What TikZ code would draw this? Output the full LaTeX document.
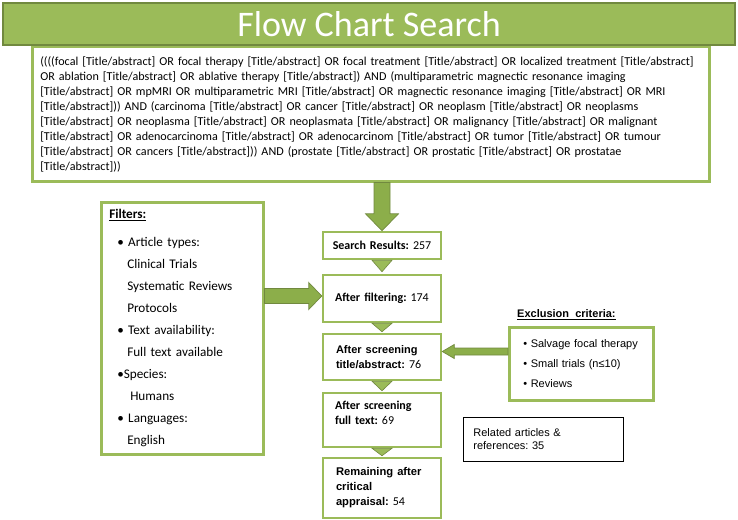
\documentclass[tikz,border=0pt]{standalone}
\usepackage{fontspec}
\setmainfont{Carlito}
\newfontfamily\arialfont{Liberation Sans}
\usetikzlibrary{calc}
\definecolor{boxgreen}{HTML}{9BBB59}
\definecolor{darkgreen}{HTML}{71893F}
\definecolor{arrowgreen}{HTML}{8CAE4A}
\frenchspacing

\begin{document}
\begin{tikzpicture}[x=1pt,y=-1pt,
  greenbox/.style={draw=boxgreen,line width=2.5pt,fill=white,inner ysep=0pt},
  flowbox/.style={greenbox,minimum width=118,text width=92,inner xsep=13pt,font=\fontsize{12}{15}\selectfont},
  centerbox/.style={flowbox,text width=112,inner xsep=3pt,align=center},
  blockarrow/.style args={#1/#2/#3}{draw=darkgreen,fill=arrowgreen,line width=0.7pt,
    to path={($(\tikztostart)!#1!90:(\tikztotarget)$)
      -- ($($(\tikztotarget)!#3!(\tikztostart)$)!#1!90:(\tikztotarget)$)
      -- ($($(\tikztotarget)!#3!(\tikztostart)$)!#2!90:(\tikztotarget)$)
      -- (\tikztotarget)
      -- ($($(\tikztotarget)!#3!(\tikztostart)$)!#2!-90:(\tikztotarget)$)
      -- ($($(\tikztotarget)!#3!(\tikztostart)$)!#1!-90:(\tikztotarget)$)
      -- ($(\tikztostart)!#1!-90:(\tikztotarget)$) -- cycle}},
  tri/.style={draw=darkgreen,fill=boxgreen,line width=0.6pt,
    to path={([xshift=-10pt]\tikztostart) -- ([xshift=10pt]\tikztostart) -- (\tikztotarget) -- cycle}}]
  \useasboundingbox (0,0) rectangle (738,519);

  \node[greenbox,anchor=north west,minimum width=677,minimum height=134,text width=661,inner xsep=8pt,
        align=left,font=\fontsize{12.1}{15}\selectfont] (query) at (31,46)
    {((((focal [Title/abstract] OR focal therapy [Title/abstract] OR focal treatment [Title/abstract] OR localized treatment [Title/abstract]\\
     OR ablation [Title/abstract] OR ablative therapy [Title/abstract]) AND (multiparametric magnectic resonance imaging\\{}
     [Title/abstract] OR mpMRI OR multiparametric MRI [Title/abstract] OR magnectic resonance imaging [Title/abstract] OR MRI\\{}
     [Title/abstract])) AND (carcinoma [Title/abstract] OR cancer [Title/abstract] OR neoplasm [Title/abstract] OR neoplasms\\{}
     [Title/abstract] OR neoplasma [Title/abstract] OR neoplasmata [Title/abstract] OR malignancy [Title/abstract] OR malignant\\{}
     [Title/abstract] OR adenocarcinoma [Title/abstract] OR adenocarcinom [Title/abstract] OR tumor [Title/abstract] OR tumour\\{}
     [Title/abstract] OR cancers [Title/abstract])) AND (prostate [Title/abstract] OR prostatic [Title/abstract] OR prostatae\\{}
     [Title/abstract]))};
  \node[draw=darkgreen,line width=1.5pt,fill=boxgreen,minimum width=732,minimum height=42,
        text=white,font=\fontsize{36}{40}\selectfont] (title) at (369,24) {Flow Chart Search};

  \node[greenbox,anchor=north west,minimum width=162,minimum height=252,text width=146,inner xsep=8pt,
        align=left,font=\fontsize{13.2}{22}\selectfont] (filters) at (100,201)
    {\textbf{\underline{Filters:}}\\[6pt]
     \hspace*{8pt}• Article types:\\
     \hspace*{18pt}Clinical Trials\\
     \hspace*{18pt}Systematic Reviews\\
     \hspace*{18pt}Protocols\\
     \hspace*{8pt}• Text availability:\\
     \hspace*{18pt}Full text available\\
     \hspace*{8pt}•Species:\\
     \hspace*{21pt}Humans\\
     \hspace*{8pt}• Languages:\\
     \hspace*{18pt}English};

  \node[centerbox,minimum height=27] (results) at (382,245.5) {\textbf{Search Results:} 257};
  \node[centerbox,minimum height=47] (filtered) at (382,298.5) {\textbf{After filtering:} 174};
  \node[flowbox,minimum height=46,align=left] (abstract) at (382,357)
    {{\arialfont\bfseries\fontsize{11}{14}\selectfont After screening\\ title/abstract:} 76};
  \node[flowbox,minimum height=54,align=left,inner xsep=12pt,text width=94] (fulltext) at (382,420)
    {\textbf{After screening}\\ \textbf{full text:} 69\\ \mbox{}};
  \node[flowbox,minimum height=60,align=left] (remaining) at (382,488)
    {{\arialfont\bfseries\fontsize{11.2}{15}\selectfont Remaining after\\ critical\\ appraisal:} 54};

  \node[greenbox,anchor=north west,minimum width=144,minimum height=73,text width=124,inner xsep=10pt,
        align=left,font=\arialfont\fontsize{11}{20}\selectfont] (exclusion) at (508,326)
    {\hspace*{4pt}• Salvage focal therapy\\
     \hspace*{4pt}• Small trials (n≤10)\\
     \hspace*{4pt}• Reviews};
  \node[anchor=west,inner sep=0pt,font=\arialfont\bfseries\fontsize{11}{13}\selectfont] (exlabel) at (517,315)
    {\underline{Exclusion\ \ criteria:}};

  \node[draw=black,line width=0.8pt,anchor=north west,minimum width=160,minimum height=44,text width=140,
        inner xsep=10pt,align=left,font=\arialfont\fontsize{11}{13}\selectfont] (related) at (463,417)
    {Related articles \&\\ references: 35};

  \coordinate (qout) at (query.south -| results.north);
  \coordinate (fin) at ([yshift=2.5pt]filtered.west);
  \coordinate (fout) at (filters.east |- fin);
  \coordinate (ain) at ([yshift=5.5pt]abstract.east);
  \coordinate (eout) at (exclusion.west |- ain);

  \draw[blockarrow=8pt/16.5pt/17pt] (qout) to (results.north);
  \draw[blockarrow=7.5pt/13.5pt/13pt] (fout) to (fin);
  \draw[blockarrow=3.5pt/7pt/12pt] (eout) to (ain);

  \draw[tri] (results.south) to ([yshift=2pt]filtered.north);
  \draw[tri] (filtered.south) to ([yshift=1pt]abstract.north);
  \draw[tri] (abstract.south) to ([yshift=1pt]fulltext.north);
  \draw[tri] (fulltext.south) to ([yshift=1pt]remaining.north);
\end{tikzpicture}
\end{document}
